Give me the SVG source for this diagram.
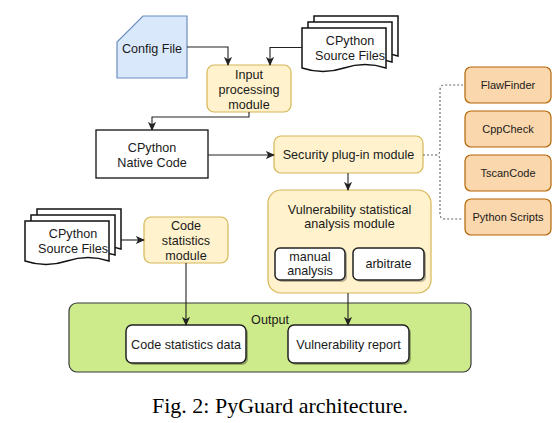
<svg xmlns="http://www.w3.org/2000/svg" width="559" height="423" viewBox="0 0 559 423">
<style>
text{font-family:"Liberation Sans",Arial,sans-serif;font-size:12.6px;fill:#1a1a1a;text-anchor:middle}
.tool text{font-size:11px}
.yel{fill:#fff2cc;stroke:#d6b656;stroke-width:1.2}
.org{fill:#fad7ac;stroke:#b46504;stroke-width:1.2}
.wht{fill:#fff;stroke:#222;stroke-width:1.5}
.sh{fill:#000;opacity:0.28}
.doc{fill:#fff;stroke:#111;stroke-width:1.5}
.edge{fill:none;stroke:#222;stroke-width:1.1}
.dash{fill:none;stroke:#666;stroke-width:1.1;stroke-dasharray:2 2}
.cap{font-family:"Liberation Serif","Times New Roman",serif;font-size:22px;fill:#000}
</style>
<defs>
<marker id="ah" viewBox="0 0 10 10" refX="9" refY="5" markerWidth="9" markerHeight="9" markerUnits="userSpaceOnUse" orient="auto">
<path d="M0,0.5 L10,5 L0,9.5 L2.5,5 Z" fill="#222"/>
</marker>
<path id="docshape" d="M0,0 H84 V40 Q63,33 42,40 Q21,47 0,40 Z"/>
</defs>

<g id="output">
<rect x="69" y="303" width="402" height="69" rx="8" fill="#cdeb8b" stroke="#36393d" stroke-width="1.2"/>
<text x="270" y="324">Output</text>
</g>

<g id="config-file">
<polygon points="143,16 187,16 187,78 117,78 117,42" fill="#dae8fc" stroke="#6c8ebf" stroke-width="1.2"/>
<text x="152" y="52.5">Config File</text>
</g>

<g id="source-files-top">
<use href="#docshape" x="314" y="16" class="doc"/>
<use href="#docshape" x="308" y="22" class="doc"/>
<use href="#docshape" x="302" y="28" class="doc"/>
<text x="350" y="44.5">CPython</text>
<text x="350" y="59.5">Source Files</text>
</g>

<g id="input-processing">
<rect x="207" y="65" width="84" height="47" rx="7" class="yel"/>
<text x="249" y="78.5">Input</text>
<text x="249" y="93.5">processing</text>
<text x="249" y="108.5">module</text>
</g>

<g id="native-code">
<rect x="96" y="130" width="112" height="48" fill="#fff" stroke="#111" stroke-width="1.3"/>
<text x="152" y="151.5">CPython</text>
<text x="152" y="166.5">Native Code</text>
</g>

<g id="security-plugin">
<rect x="274" y="136" width="149" height="37" rx="7" class="yel"/>
<text x="348.5" y="159">Security plug-in module</text>
</g>

<g id="flawfinder" class="tool">
<rect x="465" y="67" width="86" height="36" rx="6" class="org"/>
<text x="508" y="89">FlawFinder</text>
</g>
<g id="cppcheck" class="tool">
<rect x="465" y="111" width="86" height="36" rx="6" class="org"/>
<text x="508" y="133">CppCheck</text>
</g>
<g id="tscancode" class="tool">
<rect x="465" y="155" width="86" height="36" rx="6" class="org"/>
<text x="508" y="177">TscanCode</text>
</g>
<g id="python-scripts" class="tool">
<rect x="465" y="199" width="86" height="36" rx="6" class="org"/>
<text x="508" y="221">Python Scripts</text>
</g>

<g id="vuln-module">
<rect x="268" y="190" width="163" height="103" rx="13" class="yel"/>
<text x="349.5" y="213.5">Vulnerability statistical</text>
<text x="349.5" y="228">analysis module</text>
</g>
<g id="manual-analysis">
<rect x="277" y="250" width="70" height="32" rx="5" class="sh"/>
<rect x="275" y="248" width="70" height="32" rx="5" class="wht"/>
<text x="310" y="261">manual</text>
<text x="310" y="275">analysis</text>
</g>
<g id="arbitrate">
<rect x="355" y="250" width="71" height="32" rx="5" class="sh"/>
<rect x="353" y="248" width="71" height="32" rx="5" class="wht"/>
<text x="388.5" y="268">arbitrate</text>
</g>

<g id="source-files-bottom">
<use href="#docshape" x="37" y="209" class="doc"/>
<use href="#docshape" x="31" y="215" class="doc"/>
<use href="#docshape" x="25" y="221" class="doc"/>
<text x="73" y="237.5">CPython</text>
<text x="73" y="252.5">Source Files</text>
</g>

<g id="code-statistics-module">
<rect x="144" y="217" width="84" height="46" rx="7" class="yel"/>
<text x="186" y="229.5">Code</text>
<text x="186" y="244.5">statistics</text>
<text x="186" y="259.5">module</text>
</g>

<g id="code-statistics-data">
<rect x="128" y="327" width="120" height="38" rx="6" class="sh"/>
<rect x="126" y="325" width="120" height="38" rx="6" class="wht"/>
<text x="186" y="348.5">Code statistics data</text>
</g>
<g id="vulnerability-report">
<rect x="290" y="327" width="121" height="38" rx="6" class="sh"/>
<rect x="288" y="325" width="121" height="38" rx="6" class="wht"/>
<text x="348.5" y="348.5">Vulnerability report</text>
</g>

<g id="connectors">
<path class="edge" d="M187,47 H228 V65" marker-end="url(#ah)"/>
<path class="edge" d="M302,47.5 H270 V65" marker-end="url(#ah)"/>
<path class="edge" d="M249,112 V117 H152 V130" marker-end="url(#ah)"/>
<path class="edge" d="M208,155 H274" marker-end="url(#ah)"/>
<path class="edge" d="M348,173 V190" marker-end="url(#ah)"/>
<path class="edge" d="M121,240 H144" marker-end="url(#ah)"/>
<path class="edge" d="M186,263 V325" marker-end="url(#ah)"/>
<path class="edge" d="M348,293 V325" marker-end="url(#ah)"/>
<path class="dash" d="M423,155 H435 Q440,155 440,150 V90 Q440,85 445,85 H463 M435,155 Q440,155 440,160 V214 Q440,219 445,219 H463"/>
</g>

<text class="cap" x="280" y="413">Fig. 2: PyGuard architecture.</text>
</svg>
